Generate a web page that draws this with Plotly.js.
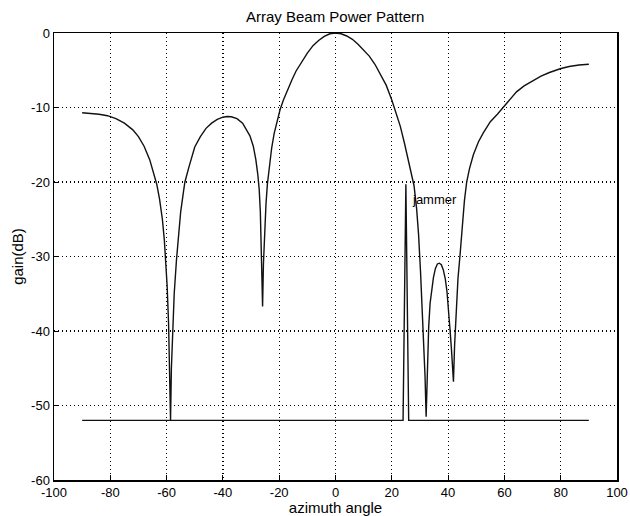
<!DOCTYPE html>
<html>
<head>
<meta charset="utf-8">
<script src="https://cdn.plot.ly/plotly-3.0.1.min.js"></script>
<style>html,body{margin:0;padding:0;background:#fff;}#chart{width:630px;height:516px;}</style>
</head>
<body>
<div id="chart"></div>
<script>
// Beam pattern (azimuth angle in degrees, gain in dB)
const patternAngle = [
  -90, -87, -84, -81, -78, -75, -72, -70, -68, -66, -64.5, -63.5, -62.5, -61.5, -60.8, -60.3, -59.8, -59.3, -59, -58.6,
  -58.3, -57.9, -57.3, -56.5, -55.8, -55, -54, -53.5, -52, -50, -48, -46, -44, -42, -40, -38.5, -37, -35, -33, -31.5, -30.4, -29.2, -28.3, -27.6, -27.1, -26.7, -26.4, -26.15, -25.9,
  -25.6, -25.2, -24.7, -24.2, -23.5, -22.7, -21.8, -20.8, -19.7, -18.5, -17, -15.5, -14, -12, -10, -8, -6, -4, -2, 0,
  2, 4, 6, 8, 10, 12, 14, 16, 18, 20, 21.5, 23, 24.5, 25.8, 27, 27.9, 28.8, 29.5, 30.2, 30.8, 31.3, 31.8, 32.2,
  32.6, 33.1, 33.6, 34.2, 34.8, 35.5, 36.2, 36.9, 37.6, 38.3, 39, 39.6, 40.2, 40.7, 41.2, 41.9,
  42.3, 42.9, 43.5, 44.2, 45, 45.8, 46.6, 47.6, 49, 50.8, 52.5, 55, 57.5, 59.6, 62, 64.3, 67, 70.2, 73, 76, 79.8, 83, 86.5, 90];
const patternGain = [
  -10.7, -10.75, -10.9, -11.1, -11.5, -12.1, -13.0, -13.9, -15.2, -17.0, -18.9, -20.3, -22.3, -25, -27.8, -30.5, -34, -39, -44, -52,
  -45, -40, -35, -30.5, -27, -24, -21.3, -20, -17.9, -15.3, -13.9, -12.8, -12.1, -11.6, -11.3, -11.2, -11.25, -11.5, -12.1, -13.0, -13.8, -15.2, -17, -19, -21, -24, -28, -32, -36.7,
  -31, -26.5, -23, -20.3, -17.8, -15.5, -13.5, -11.8, -10.3, -9.0, -7.6, -6.3, -5.1, -3.8, -2.7, -1.7, -1.0, -0.45, -0.1, 0,
  -0.1, -0.4, -0.85, -1.5, -2.25, -3.1, -4.2, -5.5, -7.0, -9.0, -10.6, -12.5, -14.8, -17.0, -18.8, -20.5, -23.5, -27, -32, -37, -41, -46, -51.5,
  -44, -39.5, -36.3, -34.2, -32.8, -31.6, -31.0, -30.9, -31.1, -31.8, -33, -34.7, -37, -39.9, -42.5, -46.8,
  -42, -37, -33, -30, -26, -22.5, -20, -18.2, -16.3, -14.6, -13.4, -11.9, -10.9, -10, -8.9, -7.9, -7.1, -6.4, -5.8, -5.3, -4.8, -4.5, -4.3, -4.2];

// Jammer marker line (floor with a spike at the jammer direction)
const jammerAngle = [-90, 24.0, 25.0, 26.0, 90];
const jammerGain = [-52, -52, -20.3, -52, -52];

const xTicks = [-100, -80, -60, -40, -20, 0, 20, 40, 60, 80, 100];
const yTicks = [-60, -50, -40, -30, -20, -10, 0];

const font = {family: '"Liberation Sans", Arial, Helvetica, sans-serif', color: '#000'};

const traces = [
  {x: patternAngle, y: patternGain, type: 'scatter', mode: 'lines',
   line: {color: '#111', width: 1.4}, hoverinfo: 'skip', showlegend: false},
  {x: jammerAngle, y: jammerGain, type: 'scatter', mode: 'lines',
   line: {color: '#111', width: 1.4}, hoverinfo: 'skip', showlegend: false}
];

const axisCommon = {
  showline: true, linecolor: '#000', linewidth: 1.5, mirror: true,
  ticks: 'inside', ticklen: 5, tickcolor: '#000', tickwidth: 1,
  showgrid: true, gridcolor: '#000', gridwidth: 1.2, griddash: '1px,3px',
  zeroline: false, tickfont: Object.assign({size: 13}, font)
};

const layout = {
  width: 630, height: 516,
  margin: {l: 54, r: 13, t: 33, b: 36},
  paper_bgcolor: '#fff', plot_bgcolor: '#fff',
  title: {text: 'Array Beam Power Pattern', font: Object.assign({size: 15}, font),
          x: 0.532, xanchor: 'center', y: 0.967, yanchor: 'middle', xref: 'container', yref: 'container'},
  xaxis: Object.assign({}, axisCommon, {
    range: [-100, 100], tickvals: xTicks, ticktext: xTicks.map(String),
    title: {text: 'azimuth angle', font: Object.assign({size: 15}, font), standoff: 1}
  }),
  yaxis: Object.assign({}, axisCommon, {
    range: [-60, 0], tickvals: yTicks, ticktext: yTicks.map(String),
    title: {text: 'gain(dB)', font: Object.assign({size: 15}, font), standoff: 4}
  }),
  annotations: [{x: 26.4, y: -22.4, xref: 'x', yref: 'y', text: 'jammer', showarrow: false,
    xanchor: 'left', yanchor: 'middle', font: Object.assign({size: 13}, font)}]
};

Plotly.newPlot('chart', traces, layout, {staticPlot: true, displayModeBar: false});
</script>
</body>
</html>
